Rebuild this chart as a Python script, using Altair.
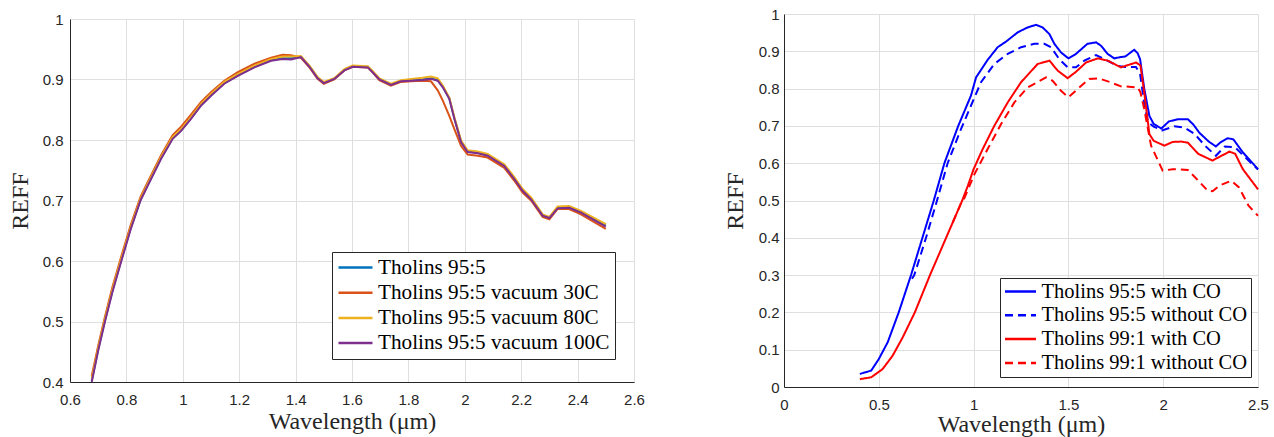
import altair as alt
import pandas as pd

# ---------------- Left panel data ----------------
left_names = ["Tholins 95:5", "Tholins 95:5 vacuum 30C",
              "Tholins 95:5 vacuum 80C", "Tholins 95:5 vacuum 100C"]
left_colors = ["#0072BD", "#D95319", "#EDB120", "#7E2F8E"]

left_x = [0.677, 0.70, 0.724, 0.75, 0.782, 0.815, 0.85, 0.875, 0.923, 0.964,
          0.994, 1.029, 1.065, 1.10, 1.147, 1.195, 1.254, 1.313, 1.354, 1.384,
          1.419, 1.449, 1.478, 1.50, 1.537, 1.573, 1.602, 1.656, 1.673, 1.697,
          1.738, 1.774, 1.81, 1.85, 1.88, 1.904, 1.922, 1.945, 1.963, 1.987,
          2.01, 2.046, 2.081, 2.14, 2.175, 2.205, 2.235, 2.276, 2.30, 2.329,
          2.37, 2.412, 2.50]

y_9505 = [0.402, 0.454, 0.502, 0.550, 0.602, 0.654, 0.701, 0.725, 0.770, 0.803,
          0.816, 0.836, 0.858, 0.874, 0.894, 0.907, 0.921, 0.932, 0.935, 0.935,
          0.937, 0.922, 0.903, 0.894, 0.901, 0.916, 0.922, 0.921, 0.913, 0.901,
          0.891, 0.897, 0.899, 0.900, 0.902, 0.899, 0.888, 0.869, 0.836, 0.797,
          0.781, 0.779, 0.775, 0.758, 0.737, 0.717, 0.703, 0.676, 0.672, 0.688,
          0.689, 0.681, 0.659]

y_30c = [0.410, 0.460, 0.508, 0.556, 0.608, 0.659, 0.706, 0.730, 0.775, 0.808,
         0.822, 0.842, 0.863, 0.879, 0.898, 0.912, 0.926, 0.936, 0.941, 0.940,
         0.936, 0.920, 0.901, 0.893, 0.900, 0.915, 0.921, 0.920, 0.912, 0.899,
         0.890, 0.896, 0.897, 0.898, 0.897, 0.882, 0.865, 0.840, 0.818, 0.790,
         0.776, 0.774, 0.771, 0.754, 0.733, 0.713, 0.700, 0.673, 0.669, 0.686,
         0.686, 0.677, 0.653]

y_80c = [0.405, 0.456, 0.504, 0.552, 0.604, 0.655, 0.703, 0.727, 0.772, 0.805,
         0.818, 0.838, 0.860, 0.876, 0.896, 0.909, 0.923, 0.934, 0.938, 0.938,
         0.939, 0.923, 0.904, 0.896, 0.902, 0.917, 0.923, 0.922, 0.914, 0.902,
         0.893, 0.899, 0.901, 0.903, 0.905, 0.902, 0.890, 0.870, 0.838, 0.799,
         0.783, 0.781, 0.777, 0.760, 0.739, 0.719, 0.705, 0.677, 0.673, 0.690,
         0.691, 0.683, 0.661]

y_100c = [0.400, 0.452, 0.500, 0.548, 0.600, 0.652, 0.700, 0.724, 0.769, 0.802,
          0.815, 0.835, 0.857, 0.873, 0.893, 0.906, 0.920, 0.931, 0.934, 0.933,
          0.937, 0.921, 0.902, 0.894, 0.901, 0.915, 0.921, 0.920, 0.912, 0.900,
          0.891, 0.897, 0.898, 0.899, 0.901, 0.898, 0.887, 0.868, 0.835, 0.796,
          0.780, 0.778, 0.774, 0.757, 0.736, 0.716, 0.702, 0.675, 0.671, 0.687,
          0.688, 0.680, 0.657]

left_ticks_x = [0.6, 0.8, 1.0, 1.2, 1.4, 1.6, 1.8, 2.0, 2.2, 2.4, 2.6]
left_ticks_y = [0.4, 0.5, 0.6, 0.7, 0.8, 0.9, 1.0]

# ---------------- Right panel data ----------------
right_names = ["Tholins 95:5 with CO", "Tholins 95:5 without CO",
               "Tholins 99:1 with CO", "Tholins 99:1 without CO"]
right_colors = ["#0000FF", "#0000FF", "#FF0000", "#FF0000"]
right_dashes = [[1, 0], [8, 5], [1, 0], [8, 5]]

x_b_co = [0.40, 0.46, 0.50, 0.547, 0.605, 0.67, 0.73, 0.79, 0.846, 0.919,
          0.986, 1.013, 1.074, 1.127, 1.171, 1.233, 1.285, 1.329, 1.364, 1.40,
          1.426, 1.461, 1.50, 1.54, 1.60, 1.646, 1.672, 1.707, 1.742, 1.77,
          1.80, 1.847, 1.865, 1.878, 1.90, 1.927, 1.95, 1.99, 2.03, 2.077,
          2.13, 2.16, 2.19, 2.24, 2.278, 2.30, 2.34, 2.37, 2.42, 2.50]
y_b_co = [0.035, 0.044, 0.075, 0.120, 0.200, 0.300, 0.400, 0.500, 0.600, 0.700,
          0.781, 0.830, 0.877, 0.911, 0.926, 0.951, 0.964, 0.971, 0.964, 0.946,
          0.920, 0.897, 0.881, 0.893, 0.920, 0.924, 0.915, 0.893, 0.881, 0.884,
          0.886, 0.904, 0.895, 0.879, 0.800, 0.727, 0.705, 0.693, 0.712, 0.718,
          0.718, 0.703, 0.682, 0.658, 0.645, 0.655, 0.667, 0.664, 0.629, 0.584]

x_b_noco = [0.675, 0.687, 0.749, 0.807, 0.863, 0.934, 0.986, 1.039, 1.109, 1.18,
            1.25, 1.32, 1.373, 1.408, 1.452, 1.496, 1.54, 1.584, 1.646, 1.69,
            1.76, 1.80, 1.856, 1.878, 1.90, 1.92, 1.95, 1.994, 2.058, 2.11,
            2.165, 2.22, 2.278, 2.325, 2.378, 2.442, 2.50]
y_b_noco = [0.290, 0.300, 0.400, 0.500, 0.600, 0.692, 0.754, 0.817, 0.866, 0.893,
            0.911, 0.920, 0.920, 0.911, 0.879, 0.857, 0.857, 0.875, 0.890, 0.879,
            0.861, 0.858, 0.858, 0.840, 0.760, 0.710, 0.698, 0.688, 0.699, 0.696,
            0.679, 0.647, 0.620, 0.645, 0.643, 0.611, 0.583]

x_r_co = [0.40, 0.46, 0.52, 0.573, 0.626, 0.69, 0.77, 0.855, 0.94, 0.97,
          1.00, 1.048, 1.109, 1.18, 1.25, 1.338, 1.40, 1.444, 1.496, 1.54,
          1.593, 1.655, 1.707, 1.777, 1.857, 1.88, 1.90, 1.927, 1.95, 2.006,
          2.05, 2.094, 2.13, 2.185, 2.26, 2.30, 2.35, 2.38, 2.42, 2.50]
y_r_co = [0.021, 0.026, 0.048, 0.084, 0.133, 0.200, 0.300, 0.400, 0.500, 0.540,
          0.584, 0.638, 0.700, 0.763, 0.817, 0.866, 0.875, 0.848, 0.828, 0.845,
          0.870, 0.881, 0.875, 0.857, 0.870, 0.862, 0.790, 0.678, 0.660, 0.647,
          0.657, 0.658, 0.655, 0.625, 0.607, 0.618, 0.631, 0.625, 0.584, 0.530]

x_r_noco = [0.89, 0.94, 0.951, 1.004, 1.074, 1.145, 1.215, 1.285, 1.382, 1.417,
            1.461, 1.50, 1.549, 1.61, 1.663, 1.716, 1.777, 1.82, 1.866, 1.88,
            1.90, 1.936, 1.997, 2.05, 2.13, 2.18, 2.235, 2.26, 2.30, 2.36,
            2.40, 2.45, 2.50]
y_r_noco = [0.441, 0.500, 0.506, 0.570, 0.638, 0.705, 0.763, 0.803, 0.830, 0.821,
            0.794, 0.777, 0.799, 0.826, 0.827, 0.818, 0.806, 0.805, 0.803, 0.790,
            0.745, 0.647, 0.580, 0.584, 0.582, 0.556, 0.526, 0.525, 0.541, 0.553,
            0.535, 0.486, 0.459]

right_ticks_x = [0, 0.5, 1.0, 1.5, 2.0, 2.5]
right_ticks_y = [0, 0.1, 0.2, 0.3, 0.4, 0.5, 0.6, 0.7, 0.8, 0.9, 1.0]

# ---------------- Build tables ----------------
left_series = [y_9505, y_30c, y_80c, y_100c]
left_df = pd.concat(
    [pd.DataFrame({"x": left_x, "y": ys, "s": n}) for n, ys in zip(left_names, left_series)],
    ignore_index=True)

right_series = [(x_b_co, y_b_co), (x_b_noco, y_b_noco), (x_r_co, y_r_co), (x_r_noco, y_r_noco)]
right_df = pd.concat(
    [pd.DataFrame({"x": xs, "y": ys, "s": n}) for n, (xs, ys) in zip(right_names, right_series)],
    ignore_index=True)

GRID = "#dfdfdf"
INK = "#262626"
TICK_FONT = "Liberation Sans"
SERIF = "Liberation Serif"


def make_axis(values, title, label_pad, title_pad):
    return alt.Axis(values=values, format="~g", title=title, grid=True,
                    gridColor=GRID, gridWidth=1, ticks=False, tickSize=0,
                    domainColor=INK, domainWidth=1,
                    labelFont=TICK_FONT, labelFontSize=15, labelColor=INK,
                    labelPadding=label_pad, labelFlush=False, labelOverlap=False,
                    titleFont=SERIF, titleFontSize=24, titleFontWeight="normal",
                    titleColor=INK, titlePadding=title_pad)


def make_legend(lx, ly, sym_len, font_size, entry_h, row_pad, pad, label_off):
    return alt.Legend(title=None, orient="none", legendX=lx, legendY=ly,
                      fillColor="white", strokeColor=INK, padding=pad,
                      labelFont=SERIF, labelFontSize=font_size, labelColor="black",
                      labelLimit=400, labelOffset=label_off,
                      symbolType="stroke", symbolSize=sym_len * sym_len,
                      symbolStrokeWidth=2.5, clipHeight=entry_h, rowPadding=row_pad)


# ---------------- Left chart ----------------
lx_axis = make_axis(left_ticks_x, "Wavelength (μm)", 10, 2)
ly_axis = make_axis(left_ticks_y, "REFF", 7, 10)
l_legend = make_legend(262, 233, 34, 21.2, 21, 3.2, 5, 4)


def left_layer(name):
    return alt.Chart(left_df).transform_filter(alt.datum.s == name).mark_line(strokeWidth=2).encode(
        x=alt.X("x:Q", scale=alt.Scale(domain=[0.6, 2.6], nice=False, zero=False), axis=lx_axis),
        y=alt.Y("y:Q", scale=alt.Scale(domain=[0.4, 1.0], nice=False, zero=False), axis=ly_axis),
        color=alt.Color("s:N", scale=alt.Scale(domain=left_names, range=left_colors), legend=l_legend),
    )


left = alt.layer(*[left_layer(n) for n in left_names]).properties(width=564, height=363)

# ---------------- Right chart ----------------
rx_axis = make_axis(right_ticks_x, "Wavelength (μm)", 10, 0)
ry_axis = make_axis(right_ticks_y, "REFF", 5, 11)
r_legend = make_legend(216, 264, 31, 20.5, 20, 2.8, 3.5, 4)


def right_layer(name):
    return alt.Chart(right_df).transform_filter(alt.datum.s == name).mark_line(strokeWidth=2).encode(
        x=alt.X("x:Q", scale=alt.Scale(domain=[0, 2.5], nice=False, zero=False), axis=rx_axis),
        y=alt.Y("y:Q", scale=alt.Scale(domain=[0, 1.0], nice=False, zero=False), axis=ry_axis),
        color=alt.Color("s:N", scale=alt.Scale(domain=right_names, range=right_colors), legend=r_legend),
        strokeDash=alt.StrokeDash("s:N", scale=alt.Scale(domain=right_names, range=right_dashes), legend=r_legend),
    )


right = alt.layer(*[right_layer(n) for n in right_names]).properties(width=474, height=373)

chart = alt.hconcat(left, right, spacing=150, bounds="flush", center=True).resolve_scale(
    color="independent", strokeDash="independent").properties(
    padding={"left": 8, "top": 7, "right": 5, "bottom": 2},
    background="white",
).configure_view(stroke=None)

chart.save("out.html", embed_options={"renderer": "svg", "actions": False})
